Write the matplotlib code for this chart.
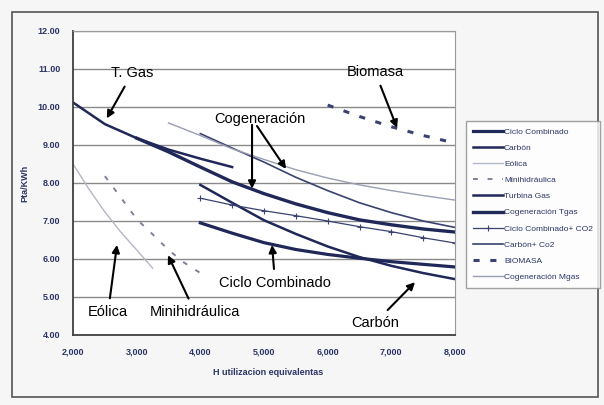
import numpy as np
import matplotlib
matplotlib.use("Agg")
import matplotlib.pyplot as plt
from matplotlib.patches import Rectangle

plt.rcParams['font.family'] = ['Liberation Sans', 'DejaVu Sans']

# --- data (hours of use vs cost in Pta/KWh) ---
h_tgas = [2000, 2500, 3000, 3500, 4000, 4500]
tgas = [10.12, 9.55, 9.18, 8.88, 8.64, 8.42]

h_cog_tgas = [3000, 3500, 4000, 4500, 5000, 5500, 6000, 6500, 7000, 7500, 8000]
cog_tgas = [9.18, 8.82, 8.42, 8.03, 7.72, 7.45, 7.22, 7.03, 6.90, 6.79, 6.71]

h_cog_mgas = [3500, 4000, 4500, 5000, 5500, 6000, 6500, 7000, 7500, 8000]
cog_mgas = [9.58, 9.25, 8.90, 8.62, 8.35, 8.13, 7.95, 7.80, 7.67, 7.55]

h_4to8 = [4000, 4500, 5000, 5500, 6000, 6500, 7000, 7500, 8000]
carbon_co2 = [9.30, 8.92, 8.55, 8.15, 7.80, 7.48, 7.22, 7.00, 6.83]
cc_co2 = [7.60, 7.42, 7.27, 7.14, 7.00, 6.85, 6.72, 6.56, 6.42]
carbon = [7.95, 7.48, 7.02, 6.66, 6.33, 6.05, 5.82, 5.63, 5.47]
ciclo = [6.95, 6.68, 6.43, 6.25, 6.12, 6.02, 5.93, 5.86, 5.79]

h_eolica = [2000, 2250, 2500, 2750, 3000, 3250]
eolica = [8.50, 7.84, 7.24, 6.71, 6.24, 5.76]

h_mini = [2500, 2750, 3000, 3250, 3500, 3750, 4000]
mini = [8.18, 7.62, 7.05, 6.65, 6.24, 5.90, 5.63]

h_bio = [6000, 6500, 7000, 7500, 8000]
biomasa = [10.05, 9.75, 9.48, 9.25, 9.05]

x_ticks = [2000, 3000, 4000, 5000, 6000, 7000, 8000]
y_ticks = [4, 5, 6, 7, 8, 9, 10, 11, 12]

navy = '#1f2858'
label_col = '#2c3566'

fig = plt.figure(figsize=(6.04, 4.05), dpi=100)
fig.patch.set_facecolor('#f6f6f6')
ax = fig.add_axes([73/604, 1-335/405, (455-73)/604, (335-31)/405])
ax.set_facecolor('white')

# outer frame of the scanned figure
fig.patches.append(Rectangle((12/604, 8/405), 586/604, 385/405, transform=fig.transFigure,
                             fill=False, edgecolor='#555555', lw=1.2))

# series (same order as the legend)
ax.plot(h_4to8, ciclo, color=navy, lw=2.3, label='Ciclo Combinado')
ax.plot(h_4to8, carbon, color=navy, lw=1.8, label='Carbón')
ax.plot(h_eolica, eolica, color='#b3b7c8', lw=1.0, label='Eólica')
ax.plot(h_mini, mini, color='#7e8298', lw=1.4, dashes=(2.5, 5), label='Minihidráulica')
ax.plot(h_tgas, tgas, color=navy, lw=1.8, label='Turbina Gas')
ax.plot(h_cog_tgas, cog_tgas, color=navy, lw=2.4, label='Cogeneración Tgas')
ax.plot(h_4to8, cc_co2, color='#3a4270', lw=0.9, marker='+', ms=4, mew=0.8,
        label='Ciclo Combinado+ CO2')
ax.plot(h_4to8, carbon_co2, color='#3a4270', lw=1.2, label='Carbón+ Co2')
ax.plot(h_bio, biomasa, color='#3a4270', lw=2.2, dashes=(2, 3.5), label='BIOMASA')
ax.plot(h_cog_mgas, cog_mgas, color='#9a9eb3', lw=1.0, label='Cogeneración Mgas')

ax.set_xlim(2000, 8000)
ax.set_ylim(4, 12)
ax.set_xticks(x_ticks)
ax.set_xticklabels([f'{v:,}' for v in x_ticks])
ax.set_yticks(y_ticks)
ax.set_yticklabels([f'{v:.2f}' for v in y_ticks])
ax.tick_params(labelsize=6.5, labelcolor=label_col, length=0, pad=9)
for lab in ax.get_xticklabels() + ax.get_yticklabels():
    lab.set_fontweight('bold')
ax.grid(axis='y', color='#8a8a8a', lw=1.0)
ax.set_axisbelow(True)
for side in ['top', 'right']:
    ax.spines[side].set_color('#9a9a9a')
for side in ['left', 'bottom']:
    ax.spines[side].set_color('#404040')
    ax.spines[side].set_linewidth(1.3)

ax.set_xlabel('H utilizacion equivalentas', fontsize=6.5, fontweight='bold',
              color=label_col, labelpad=8, x=0.51)
ax.set_ylabel('Pta/KWh', fontsize=6.5, fontweight='bold', color=label_col, labelpad=6)

# annotations
arrow = dict(arrowstyle='-|>', color='black', lw=1.5, mutation_scale=11, shrinkA=3, shrinkB=0)
fs = 10.5
ax.annotate('T. Gas', xy=(2530, 9.70), xytext=(2930, 10.89), ha='center', va='center',
            fontsize=fs, arrowprops=arrow)
ax.annotate('Biomasa', xy=(7090, 9.45), xytext=(6745, 10.92), ha='center', va='center',
            fontsize=fs, arrowprops=arrow)
ax.annotate('Cogeneración', xy=(4812, 7.82), xytext=(4937, 9.68), ha='center', va='center',
            fontsize=fs)
ax.annotate('', xy=(4812, 7.85), xytext=(4812, 9.53), arrowprops=dict(arrow, shrinkA=0))
ax.annotate('', xy=(5346, 8.37), xytext=(4890, 9.50), arrowprops=dict(arrow, shrinkA=0))
ax.annotate('Ciclo Combinado', xy=(5126, 6.37), xytext=(5175, 5.37), ha='center', va='center',
            fontsize=fs, arrowprops=arrow)
ax.annotate('Carbón', xy=(7372, 5.39), xytext=(6745, 4.32), ha='center', va='center',
            fontsize=fs, arrowprops=arrow)
ax.annotate('Eólica', xy=(2691, 6.37), xytext=(2550, 4.60), ha='center', va='center',
            fontsize=fs, arrowprops=arrow)
ax.annotate('Minihidráulica', xy=(3492, 6.10), xytext=(3916, 4.60), ha='center', va='center',
            fontsize=fs, arrowprops=arrow)

leg = fig.legend(loc='upper left', bbox_to_anchor=(462/604, 1-117/405), fontsize=6.0,
                 frameon=True, fancybox=False, edgecolor='#8a8a8a', handlelength=3.6,
                 labelspacing=1.0, borderpad=0.8, handletextpad=0.15)
for t in leg.get_texts():
    t.set_color(label_col)

fig.savefig('out.png', dpi=100, facecolor=fig.get_facecolor())
